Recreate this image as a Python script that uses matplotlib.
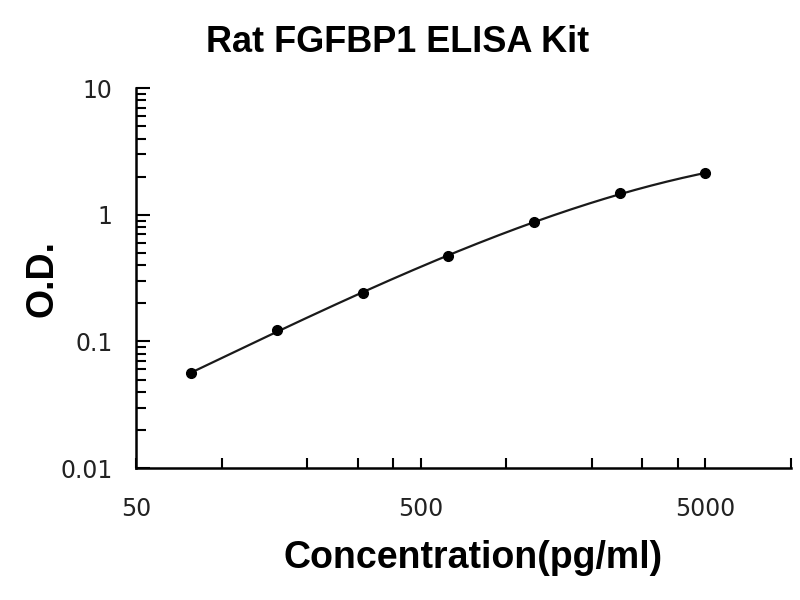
import numpy as np
import matplotlib
matplotlib.use("Agg")
import matplotlib.pyplot as plt
from matplotlib.ticker import FixedLocator, NullFormatter, FixedFormatter

conc = [78.125, 156.25, 312.5, 625, 1250, 2500, 5000]
od = [0.056, 0.123, 0.241, 0.472, 0.871, 1.49, 2.12]
x_ticklabels = ["50", "500", "5000"]
y_ticklabels = ["0.01", "0.1", "1", "10"]

fig = plt.figure(figsize=(8, 6), dpi=100)
ax = fig.add_axes([0.17, 0.22, 0.819, 0.633])

# smooth fitted curve in log-log space
lx = np.log10(conc)
ly = np.log10(od)
coef = np.polyfit(lx, ly, 3)
xs = np.linspace(lx[0], lx[-1], 200)
ax.plot(10**xs, 10**np.polyval(coef, xs), color="#1a1a1a", lw=1.6, zorder=2)
ax.plot(conc, od, "o", color="black", ms=7, zorder=3)

ax.set_xscale("log")
ax.set_yscale("log")
ax.set_xlim(50, 10000)
ax.set_ylim(0.01, 10)

for s in ["top", "right"]:
    ax.spines[s].set_visible(False)
for s in ["left", "bottom"]:
    ax.spines[s].set_linewidth(1.8)
    ax.spines[s].set_color("black")

# x ticks
ax.xaxis.set_major_locator(FixedLocator([50, 500, 5000]))
ax.xaxis.set_major_formatter(FixedFormatter(x_ticklabels))
ax.xaxis.set_minor_locator(FixedLocator([100, 200, 300, 400, 1000, 2000, 3000, 4000, 10000]))
ax.xaxis.set_minor_formatter(NullFormatter())
ax.tick_params(axis="x", which="major", direction="in", length=7, width=1.5, pad=21, labelsize=17)
ax.tick_params(axis="x", which="minor", direction="in", length=7, width=1.5)

# y ticks
ax.yaxis.set_major_locator(FixedLocator([0.01, 0.1, 1, 10]))
ax.yaxis.set_major_formatter(FixedFormatter(y_ticklabels))
ymin = []
for d in [0.01, 0.1, 1]:
    ymin += [d * k for k in range(2, 10)]
ax.yaxis.set_minor_locator(FixedLocator(ymin))
ax.yaxis.set_minor_formatter(NullFormatter())
ax.tick_params(axis="y", which="major", direction="in", length=10, width=1.5, pad=17, labelsize=17)
ax.tick_params(axis="y", which="minor", direction="in", length=7, width=1.5)

for lab in ax.get_xticklabels() + ax.get_yticklabels():
    lab.set_fontfamily("DejaVu Sans")
    lab.set_color("#222222")

fig.text(0.497, 0.93, "Rat FGFBP1 ELISA Kit", ha="center", va="center",
         fontsize=26, fontweight="bold", family="Liberation Sans")
ax.set_xlabel("Concentration(pg/ml)", fontsize=27, fontweight="bold",
              family="Liberation Sans", labelpad=11)
ax.xaxis.set_label_coords(0.514, -0.19)
ax.set_ylabel("O.D.", fontsize=27, fontweight="bold",
              family="Liberation Sans", labelpad=0)

fig.savefig("out.png", dpi=100)
